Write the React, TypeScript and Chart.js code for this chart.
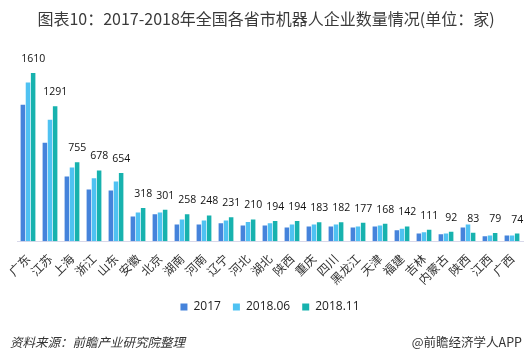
import React, { useEffect, useRef } from "react";
import { Chart, registerables } from "chart.js";

Chart.register(...registerables);

const categories = ["广东", "江苏", "上海", "浙江", "山东", "安徽", "北京", "湖南", "河南", "辽宁", "河北", "湖北", "陕西", "重庆", "四川", "黑龙江", "天津", "福建", "吉林", "内蒙古", "陕西", "江西", "广西"];
const series2017 = [1305, 943, 620, 495, 486, 238, 260, 162, 162, 172, 152, 152, 133, 143, 143, 133, 143, 105, 76, 67, 133, 48, 57];
const series201806 = [1518, 1162, 707, 603, 572, 276, 276, 210, 200, 200, 184, 172, 162, 162, 160, 143, 152, 121, 86, 76, 162, 57, 57];
const series201811 = [1610, 1291, 755, 678, 654, 318, 301, 258, 248, 231, 210, 194, 194, 183, 182, 177, 168, 142, 111, 92, 83, 79, 74];
const seriesNames = ["2017", "2018.06", "2018.11"];
const titleText = "图表10：2017-2018年全国各省市机器人企业数量情况(单位：家)";
const sourceText = "资料来源：前瞻产业研究院整理";
const brandText = "@前瞻经济学人APP";

const CJK = "'Noto Sans CJK SC', 'Open Sans', sans-serif";

const decorPlugin = {
  id: "decor",
  afterDraw(chart: any) {
    const ctx = chart.ctx;
    ctx.save();
    ctx.fillStyle = "#3a3a3a";
    ctx.font = `16px ${CJK}`;
    ctx.textAlign = "center";
    ctx.textBaseline = "middle";
    ctx.fillText(titleText, 266, 19);
    ctx.font = `italic 12.5px ${CJK}`;
    ctx.textAlign = "left";
    ctx.fillStyle = "#333";
    ctx.fillText(sourceText, 10, 342);
    ctx.font = `12.5px ${CJK}`;
    ctx.textAlign = "right";
    ctx.fillText(brandText, 522, 342);
    ctx.restore();
  },
  afterDatasetsDraw(chart: any) {
    const ctx = chart.ctx;
    const meta = chart.getDatasetMeta(2);
    ctx.save();
    ctx.fillStyle = "#111";
    ctx.font = "10.5px 'Open Sans', sans-serif";
    ctx.textAlign = "center";
    ctx.textBaseline = "middle";
    meta.data.forEach((el: any, i: number) => {
      ctx.fillText(String(series201811[i]), el.x, el.y - 14);
    });
    ctx.restore();
  },
};

export default function App() {
  const ref = useRef<HTMLCanvasElement>(null);
  useEffect(() => {
    if (!ref.current) return;
    const chart = new Chart(ref.current, {
      type: "bar",
      data: {
        labels: categories,
        datasets: [
          { label: seriesNames[0], data: series2017, backgroundColor: "#4583db" },
          { label: seriesNames[1], data: series201806, backgroundColor: "#4fc2f2" },
          { label: seriesNames[2], data: series201811, backgroundColor: "#17b2ae" },
        ],
      },
      options: {
        responsive: false,
        animation: false,
        layout: { padding: { left: 17, right: 9, top: 53, bottom: 40 } },
        datasets: { bar: { categoryPercentage: 0.7, barPercentage: 0.88 } },
        scales: {
          x: {
            grid: { display: false },
            border: { color: "#d8d8ea" },
            ticks: {
              autoSkip: false,
              minRotation: 45,
              maxRotation: 45,
              color: "#333",
              padding: 2,
              font: { size: 12, family: CJK },
            },
          },
          y: { display: false, min: 0, max: 1800 },
        },
        plugins: {
          title: { display: false },
          tooltip: { enabled: false },
          legend: {
            position: "bottom",
            labels: {
              boxWidth: 7,
              boxHeight: 7,
              color: "#222",
              font: { size: 12, family: "'Open Sans', sans-serif" },
              padding: 12,
            },
          },
        },
      },
      plugins: [decorPlugin],
    });
    return () => chart.destroy();
  }, []);
  return (
    <div style={{ position: "absolute", left: 0, top: 0, width: 532, height: 363, background: "#fff" }}>
      <canvas ref={ref} width={532} height={363} />
    </div>
  );
}
